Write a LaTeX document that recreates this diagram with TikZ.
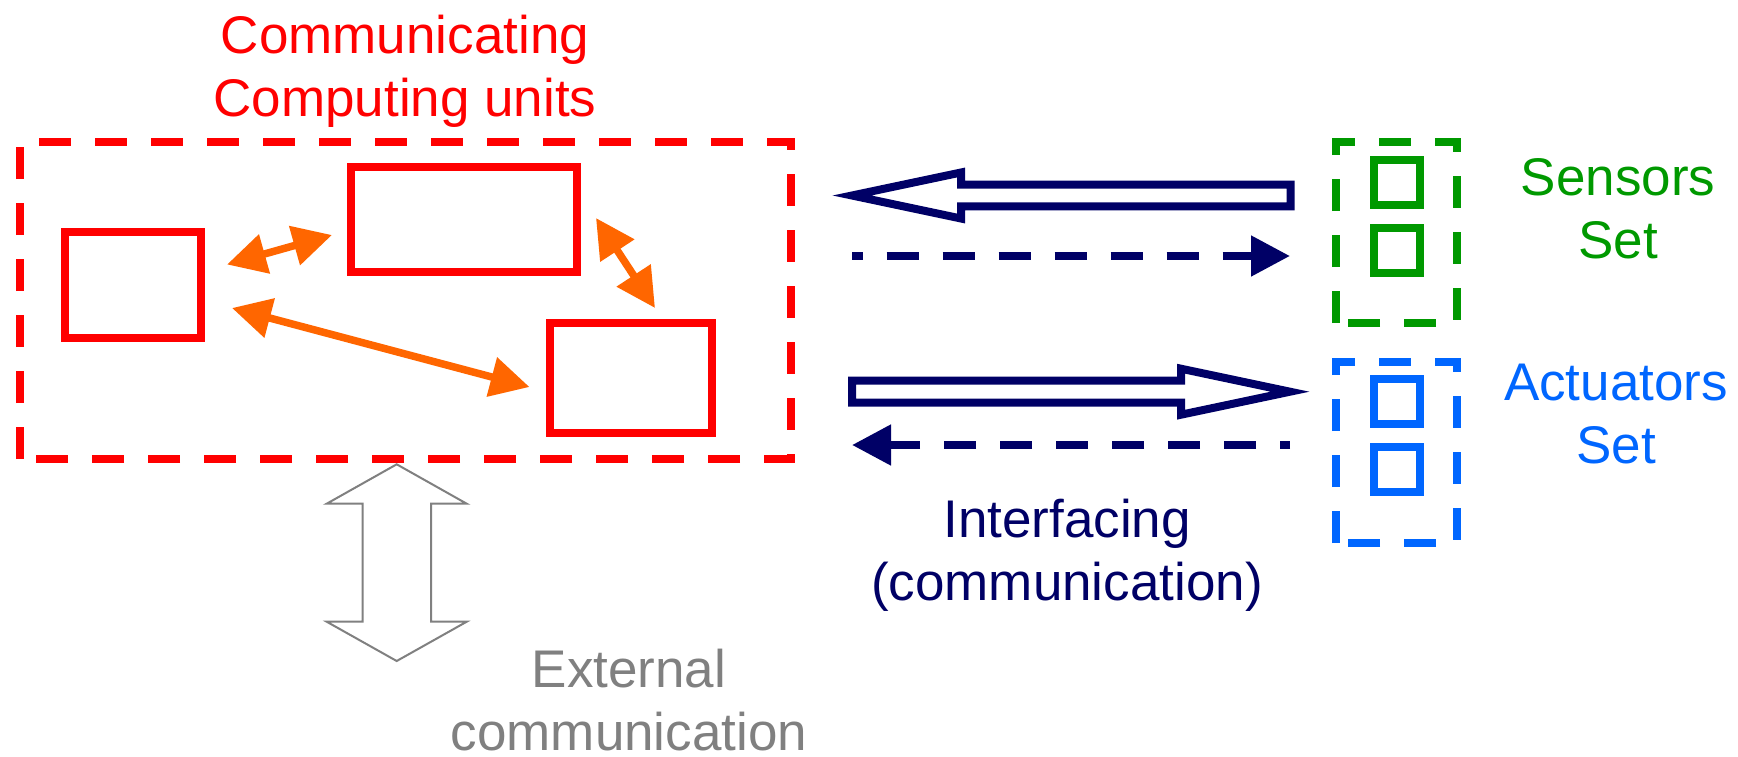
\documentclass[tikz,border=0pt]{standalone}
\usepackage{fontspec}
\setmainfont{Liberation Sans}
\usetikzlibrary{arrows.meta}
\definecolor{cred}{HTML}{FF0000}
\definecolor{corange}{HTML}{FF6600}
\definecolor{cnavy}{HTML}{000066}
\definecolor{cgreen}{HTML}{009900}
\definecolor{cblue}{HTML}{0066FF}
\definecolor{cgray}{HTML}{808080}
\begin{document}
\begin{tikzpicture}[x=1pt,y=-1pt,
  lbl/.style={font=\fontsize{53}{63}\selectfont, align=center, inner sep=0pt, anchor=base},
  unitbox/.style={draw=cred, line width=8pt, rectangle, inner sep=0pt, outer sep=0pt},
  frame/.style={rectangle, draw=none, inner sep=0pt, outer sep=0pt},
  dashline/.style={line width=8pt, dash pattern=on 32pt off 24pt, line join=miter},
  smallsq/.style={rectangle, line width=8pt, inner sep=0pt, outer sep=0pt, minimum width=46pt, minimum height=45pt},
  orangearrow/.style={draw=corange, line width=7.5pt, {Triangle[length=39pt,width=39pt]}-{Triangle[length=39pt,width=39pt]}},
  navydash/.style={draw=cnavy, line width=8pt, dash pattern=on 32pt off 24pt, -{Triangle[length=39pt,width=39pt]}},
  hollow/.style={draw=cnavy, fill=white, line width=8pt, line join=miter},
  ]
\useasboundingbox[fill=white] (0,0) rectangle (1738,756);

% ---- computing units ----
\node[frame, minimum width=771pt, minimum height=317pt] (cu) at (405.5,300.5) {};
\draw[dashline, draw=cred] (cu.south west) -- (cu.north west) -- (cu.north east) -- (cu.south east) -- cycle;
\node[unitbox, minimum width=136pt, minimum height=106pt] (u1) at (133,285) {};
\node[unitbox, minimum width=226pt, minimum height=105pt] (u2) at (464,219.5) {};
\node[unitbox, minimum width=162pt, minimum height=110pt] (u3) at (631,378) {};

\coordinate (a1s) at (227,264.5);
\coordinate (a1e) at (332,235);
\coordinate (a2s) at (596,218);
\coordinate (a2e) at (655,308);
\coordinate (a3s) at (232,308);
\coordinate (a3e) at (529.5,387);
\draw[orangearrow] (a1s) -- (a1e);
\draw[orangearrow] (a2s) -- (a2e);
\draw[orangearrow] (a3s) -- (a3e);

% multi-line nodes: base anchor sits on the last line's baseline
\node[lbl, text=cred] (culbl) at (405,116) {Communicating\\Computing units};

% ---- sensors / actuators ----
\node[frame, minimum width=121pt, minimum height=181pt] (sens) at (1396.5,232.5) {};
\draw[dashline, draw=cgreen] (sens.south west) -- (sens.north west) -- (sens.north east) -- (sens.south east) -- cycle;
\node[smallsq, draw=cgreen] (s1) at (1397,182.5) {};
\node[smallsq, draw=cgreen] (s2) at (1397,250.5) {};
\node[lbl, text=cgreen] (senslbl) at (1618,258) {Sensors\\Set};

\node[frame, minimum width=121pt, minimum height=181pt] (act) at (1396.5,452.5) {};
\draw[dashline, draw=cblue] (act.south west) -- (act.north west) -- (act.north east) -- (act.south east) -- cycle;
\node[smallsq, draw=cblue] (b1) at (1397,401.5) {};
\node[smallsq, draw=cblue] (b2) at (1397,469.5) {};
\node[lbl, text=cblue] (actlbl) at (1616,463) {Actuators\\Set};

% ---- interfacing arrows ----
\draw[hollow] (852,195.5) -- (961,172.5) -- (961,184.7) -- (1290.5,184.7) -- (1290.5,206.3) -- (961,206.3) -- (961,218.5) -- cycle;
\coordinate (d1s) at (852,256);
\coordinate (d1e) at (1290,256);
\draw[navydash, dash phase=21.5pt] (d1s) -- (d1e);

\draw[hollow] (1290,391.7) -- (1181,368.7) -- (1181,380.7) -- (852,380.7) -- (852,402.7) -- (1181,402.7) -- (1181,414.7) -- cycle;
\coordinate (d2s) at (1290,445);
\coordinate (d2e) at (852,445);
\draw[navydash, dash phase=22pt] (d2s) -- (d2e);

\node[lbl, text=cnavy] (iflbl) at (1067,600) {Interfacing\\(communication)};

% ---- external communication ----
\draw[draw=cgray, fill=white, line width=2pt, line join=miter]
  (396.7,464.3) -- (466.7,503.7) -- (431,503.7) -- (431,621.7) -- (466.7,621.7) -- (396.7,661)
  -- (326.7,621.7) -- (362.7,621.7) -- (362.7,503.7) -- (326.7,503.7) -- cycle;
\node[lbl, text=cgray] (extlbl) at (629,750) {External\\communication};
\end{tikzpicture}
\end{document}
